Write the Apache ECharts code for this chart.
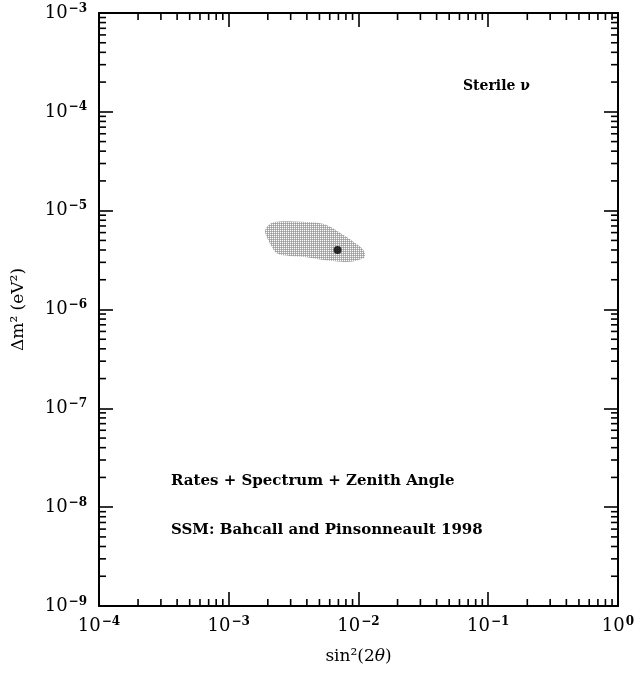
<!DOCTYPE html>
<html>
<head>
<meta charset="utf-8">
<script src="https://cdn.jsdelivr.net/npm/echarts@6/dist/echarts.min.js"></script>
<style>
  html, body { margin: 0; padding: 0; background: #fff; }
  #chart { width: 636px; height: 673px; }
</style>
</head>
<body>
<div id="chart"></div>
<script>
// Allowed region outline (sin^2(2θ), Δm^2 in eV^2)
const regionSin2 = [1.91e-3, 2.08e-3, 2.34e-3, 3.55e-3, 5.06e-3, 6.04e-3, 7.66e-3, 9.14e-3,
  1.09e-2, 1.12e-2, 1.03e-2, 8.61e-3, 7.21e-3, 5.33e-3, 3.99e-3, 2.97e-3, 2.34e-3, 2.15e-3, 1.96e-3];
const regionDm2 = [6.37e-6, 7.32e-6, 7.72e-6, 7.72e-6, 7.45e-6, 6.87e-6, 5.66e-6, 4.84e-6,
  3.99e-6, 3.41e-6, 3.21e-6, 3.04e-6, 3.04e-6, 3.16e-6, 3.37e-6, 3.47e-6, 3.70e-6, 4.31e-6, 5.44e-6];

// Best-fit point
const bestFitSin2 = [6.9e-3];
const bestFitDm2 = [4.0e-6];

// Axis ranges (decade exponents)
const xDecades = [-4, -3, -2, -1, 0];
const yDecades = [-9, -8, -7, -6, -5, -4, -3];

const FONT = '"DejaVu Serif", "Liberation Serif", serif';

// Stipple pattern for the shaded region
const pat = document.createElement('canvas');
pat.width = 2; pat.height = 2;
(function () {
  const c = pat.getContext('2d');
  c.fillStyle = '#b4b4b4'; c.fillRect(0, 0, 2, 2);
  c.fillStyle = '#ffffff'; c.fillRect(0, 0, 1, 1);
  c.fillStyle = '#9c9c9c'; c.fillRect(1, 1, 1, 1);
})();

function powLabel(v) {
  const e = Math.round(Math.log10(v));
  return '{b|10}{e|' + (e < 0 ? '\u2212' + (-e) : e) + '}';
}
const labelRich = {
  b: { fontFamily: FONT, fontSize: 18, color: '#000', fontWeight: 500 },
  e: { fontFamily: FONT, fontSize: 12, color: '#000', fontWeight: 'bold', padding: [0, 0, 9, 1] }
};

// Minor ticks at 2..9 within every decade, on all four frame sides
function minorTicks(params, api) {
  const cs = params.coordSys;
  const x0 = cs.x, x1 = cs.x + cs.width, y0 = cs.y, y1 = cs.y + cs.height;
  const L = 7;
  const children = [];
  const ls = { stroke: '#000', lineWidth: 1.6 };
  for (let d = xDecades[0]; d < xDecades[xDecades.length - 1]; d++) {
    for (let k = 2; k <= 9; k++) {
      const px = api.coord([k * Math.pow(10, d), Math.pow(10, yDecades[0])])[0];
      children.push({ type: 'line', shape: { x1: px, y1: y1, x2: px, y2: y1 - L }, style: ls });
      children.push({ type: 'line', shape: { x1: px, y1: y0, x2: px, y2: y0 + L }, style: ls });
    }
  }
  for (let d = yDecades[0]; d < yDecades[yDecades.length - 1]; d++) {
    for (let k = 2; k <= 9; k++) {
      const py = api.coord([Math.pow(10, xDecades[0]), k * Math.pow(10, d)])[1];
      children.push({ type: 'line', shape: { x1: x0, y1: py, x2: x0 + L, y2: py }, style: ls });
      children.push({ type: 'line', shape: { x1: x1, y1: py, x2: x1 - L, y2: py }, style: ls });
    }
  }
  return { type: 'group', children: children };
}

function regionShape(params, api) {
  const pts = regionSin2.map((x, i) => api.coord([x, regionDm2[i]]));
  return {
    type: 'polygon',
    shape: { points: pts, smooth: 0.4 },
    style: { fill: { image: pat, repeat: 'repeat' }, stroke: null }
  };
}

const axisCommon = {
  type: 'log',
  logBase: 10,
  axisLine: { show: true, lineStyle: { color: '#000', width: 2 } },
  axisTick: { show: true, inside: true, length: 14, lineStyle: { color: '#000', width: 1.6 } },
  splitLine: { show: false },
  minorTick: { show: false }
};

const titleRich = {
  n: { fontFamily: FONT, fontSize: 17, color: '#000' },
  i: { fontFamily: FONT, fontSize: 17, color: '#000', fontStyle: 'italic' }
};

const chart = echarts.init(document.getElementById('chart'), null, { renderer: 'canvas' });
chart.setOption({
  animation: false,
  backgroundColor: '#fff',
  grid: { left: 99, right: 18, top: 13, bottom: 67, containLabel: false, outerBoundsMode: 'none' },
  xAxis: [
    Object.assign({}, axisCommon, {
      position: 'bottom',
      min: Math.pow(10, xDecades[0]), max: Math.pow(10, xDecades[xDecades.length - 1]),
      axisLabel: { formatter: powLabel, rich: labelRich, margin: 10 },
      name: '{n|sin\u00b2(2}{i|\u03b8}{n|)}', nameLocation: 'middle', nameGap: 42,
      nameTextStyle: { rich: titleRich }
    }),
    Object.assign({}, axisCommon, {
      position: 'top',
      min: Math.pow(10, xDecades[0]), max: Math.pow(10, xDecades[xDecades.length - 1]),
      axisLabel: { show: false }
    })
  ],
  yAxis: [
    Object.assign({}, axisCommon, {
      position: 'left',
      min: Math.pow(10, yDecades[0]), max: Math.pow(10, yDecades[yDecades.length - 1]),
      axisLabel: { formatter: powLabel, rich: labelRich, margin: 12 },
      name: '\u0394m\u00b2 (eV\u00b2)', nameLocation: 'middle', nameGap: 72, nameRotate: 90,
      nameTextStyle: { fontFamily: FONT, fontSize: 17, color: '#000' }
    }),
    Object.assign({}, axisCommon, {
      position: 'right',
      min: Math.pow(10, yDecades[0]), max: Math.pow(10, yDecades[yDecades.length - 1]),
      axisLabel: { show: false }
    })
  ],
  series: [
    { type: 'custom', renderItem: regionShape, data: [0], silent: true, z: 2 },
    {
      type: 'scatter', data: bestFitSin2.map((x, i) => [x, bestFitDm2[i]]),
      symbol: 'circle', symbolSize: 8, itemStyle: { color: '#000' }, z: 3, silent: true
    },
    { type: 'custom', renderItem: minorTicks, data: [0], silent: true, z: 4 }
  ],
  graphic: [
    { type: 'text', left: 463, top: 79, style: { text: 'Sterile \u03bd', font: 'bold 14px ' + FONT, fill: '#000' } },
    { type: 'text', left: 171, top: 474, style: { text: 'Rates + Spectrum + Zenith Angle', font: 'bold 15px ' + FONT, fill: '#000' } },
    { type: 'text', left: 171, top: 523, style: { text: 'SSM: Bahcall and Pinsonneault 1998', font: 'bold 15px ' + FONT, fill: '#000' } }
  ]
});
</script>
</body>
</html>
